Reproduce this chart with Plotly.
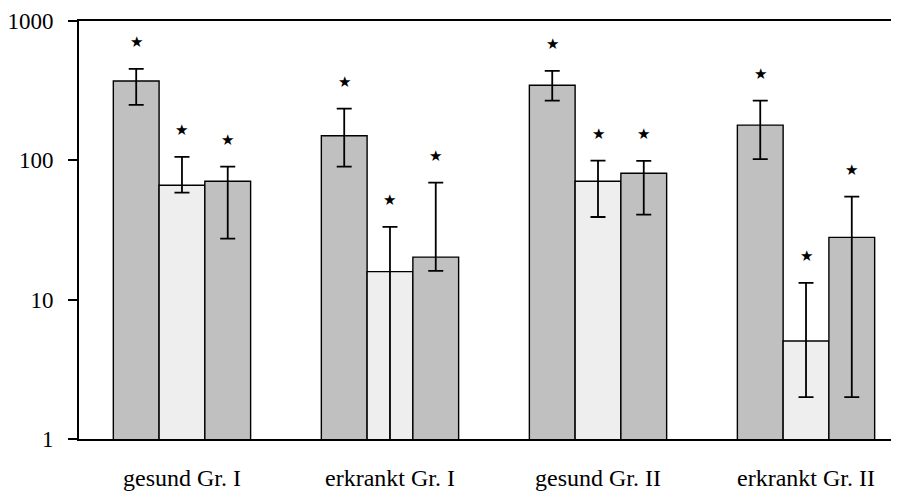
import plotly.graph_objects as go
import math

categories = ["gesund Gr. I", "erkrankt Gr. I", "gesund Gr. II", "erkrankt Gr. II"]

values_a = [371, 150, 346, 179]
upper_a = [453, 235, 438, 268]
lower_a = [250, 90, 268, 102]

values_b = [66.3, 15.9, 70.8, 5.05]
upper_b = [106, 33.3, 99.5, 13.2]
lower_b = [58.6, 0.3, 39.2, 2.0]

values_c = [70.8, 20.2, 80.8, 28.0]
upper_c = [90, 69.2, 99, 54.9]
lower_c = [27.4, 16.1, 40.8, 2.0]

y_ticks = [1, 10, 100, 1000]
y_tick_labels = ["1", "10", "100", "1000"]

dark = "#c0c0c0"
light = "#eeeeee"

series = [
    (values_a, upper_a, lower_a, dark),
    (values_b, upper_b, lower_b, light),
    (values_c, upper_c, lower_c, dark),
]

fig = go.Figure()
for vals, up, lo, col in series:
    fig.add_trace(go.Bar(
        x=categories, y=vals,
        marker=dict(color=col, line=dict(color="black", width=1.4)),
        error_y=dict(type="data", symmetric=False,
                     array=[u - v for u, v in zip(up, vals)],
                     arrayminus=[v - l for v, l in zip(vals, lo)],
                     color="black", thickness=1.8, width=7.5),
        showlegend=False, hoverinfo="skip",
    ))

bargap = 0.34
bw = (1 - bargap) / 3
annotations = []
for si, (vals, up, lo, col) in enumerate(series):
    off = (si - 1) * bw
    for ci, u in enumerate(up):
        annotations.append(dict(
            x=ci + off, y=math.log10(u), xref="x", yref="y",
            text="★", showarrow=False, yshift=27,
            font=dict(size=15, color="black"),
        ))

fig.update_layout(
    width=899, height=491,
    margin=dict(l=71, r=8, t=13, b=60, autoexpand=False),
    paper_bgcolor="white", plot_bgcolor="white",
    barmode="group", bargap=bargap, bargroupgap=0,
    font=dict(family="Liberation Serif", size=24, color="black"),
    annotations=annotations,
    xaxis=dict(
        type="category", range=[-0.495, 3.447], automargin=False,
        showline=True, linecolor="black", linewidth=2, mirror=True,
        showgrid=False, ticks="outside", ticklen=16,
        tickcolor="rgba(0,0,0,0)", tickfont=dict(size=24),
    ),
    yaxis=dict(
        type="log", range=[0, 3], automargin=False,
        tickvals=y_ticks, ticktext=y_tick_labels,
        showline=True, linecolor="black", linewidth=2,
        showgrid=False, zeroline=False,
        ticks="outside", ticklen=9, tickwidth=2, tickcolor="black",
        ticklabelstandoff=10, tickfont=dict(size=23),
    ),
)

fig.write_html("out.html")
